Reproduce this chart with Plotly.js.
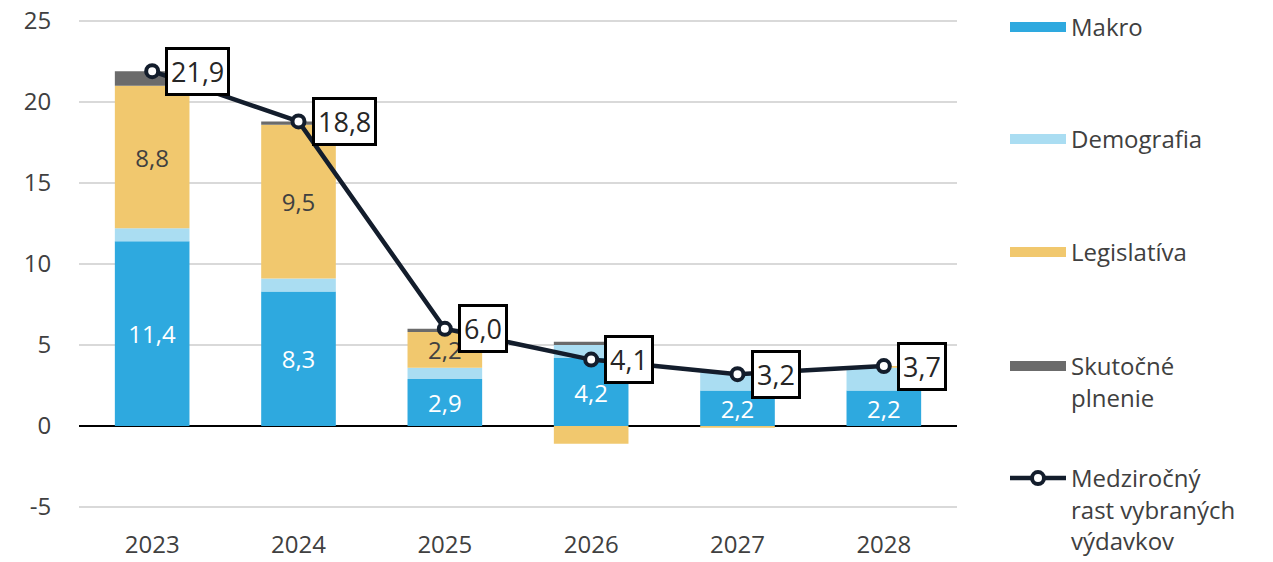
<!DOCTYPE html>
<html><head><meta charset="utf-8">
<script src="https://cdn.plot.ly/plotly-3.0.1.min.js"></script>
<style>html,body{margin:0;padding:0;background:#fff}#chart{width:1273px;height:562px}</style>
</head><body><div id="chart"></div>
<script>
const years = ['2023','2024','2025','2026','2027','2028'];
const makro = [11.4, 8.3, 2.9, 4.2, 2.2, 2.2];
const demografia = [0.8, 0.8, 0.7, 0.8, 1.1, 1.4];
const legislativa = [8.8, 9.5, 2.2, -1.1, -0.1, 0.1];
const skutocne = [0.9, 0.2, 0.2, 0.2, 0.0, 0.0];
const medzirocny = [21.9, 18.8, 6.0, 4.1, 3.2, 3.7];
const legislativaLabels = ['8,8', '9,5', '2,2', '', '', ''];
const yTicks = [-5, 0, 5, 10, 15, 20, 25];

const fmt = v => v.toFixed(1).replace('.', ',');
const FONT = 'Open Sans, sans-serif';
const TXT = '#404040';
const C = {makro:'#2EA9DF', demo:'#AADDF2', leg:'#F1C86E', skut:'#6B6B6B', line:'#131D2C'};

const bar = (name, y, color, extra) => Object.assign({
  type:'bar', name: name, x: years.slice(), y: y, marker:{color: color, line:{width:0}},
  showlegend:false, hoverinfo:'skip'
}, extra || {});

const proxy = (name, color, legend) => ({
  type:'scatter', mode:'lines', name: name, x:[null], y:[null],
  line:{color: color, width:16}, legend: legend, hoverinfo:'skip', showlegend:true
});

const traces = [
  bar('Makro', makro, C.makro, {text: makro.map(fmt), textposition:'inside', insidetextanchor:'middle',
      textangle:0, textfont:{color:'#ffffff', size:24, family:FONT}}),
  bar('Demografia', demografia, C.demo),
  bar('Legislatíva', legislativa, C.leg, {text: legislativaLabels, textposition:'inside', insidetextanchor:'middle',
      textangle:0, textfont:{color:TXT, size:24, family:FONT}}),
  bar('Skutočné plnenie', skutocne, C.skut),
  proxy('Makro', C.makro, 'legend'),
  proxy('Demografia', C.demo, 'legend2'),
  proxy('Legislatíva', C.leg, 'legend3'),
  proxy('Skutočné<br>plnenie', C.skut, 'legend4'),
  {type:'scatter', mode:'lines+markers', name:'Medziročný<br>rast vybraných<br>výdavkov',
   x: years.slice(), y: medzirocny, legend:'legend5', hoverinfo:'skip',
   line:{color:C.line, width:4.5},
   marker:{symbol:'circle', size:12, color:'#ffffff', line:{color:C.line, width:4}}}
];

const annotations = medzirocny.map((v, i) => ({
  x: i, y: v, xref:'x', yref:'y', text: fmt(v), showarrow:false,
  xanchor:'left', yanchor:'middle', xshift:13,
  font:{size:27, color:'#262626', family:FONT},
  bgcolor:'#ffffff', bordercolor:'#000000', borderwidth:3, borderpad:3
}));

const plotTop = 19, plotBottom = 509, plotH = plotBottom - plotTop;
const legY = px => (plotBottom - px) / plotH;
const legX = (1005 - 79) / 878;
const mkLeg = (topPx) => ({
  x: legX, xanchor:'left', y: legY(topPx), yanchor:'top', valign:'top',
  bgcolor:'rgba(0,0,0,0)', borderwidth:0, itemwidth:56,
  font:{size:24, color:TXT, family:FONT}
});

const layout = {
  width:1273, height:562,
  margin:{l:79, r:316, t:plotTop, b:562 - plotBottom, pad:0, autoexpand:false},
  paper_bgcolor:'#ffffff', plot_bgcolor:'#ffffff',
  barmode:'relative', bargap:0.49,
  font:{family:FONT, color:TXT, size:24},
  xaxis:{type:'category', categoryorder:'array', categoryarray: years,
    range:[-0.5, years.length - 0.5], autorange:false,
    showgrid:false, zeroline:false, showline:false,
    ticks:'outside', ticklen:14, tickcolor:'rgba(0,0,0,0)',
    tickfont:{size:24, color:TXT, family:FONT}},
  yaxis:{range:[-5.12, 25.12], autorange:false, tickvals:yTicks, ticktext:yTicks.map(String),
    showgrid:true, gridcolor:'#D9D9D9', gridwidth:1.3,
    zeroline:true, zerolinecolor:'#000000', zerolinewidth:1.3,
    ticks:'outside', ticklen:22, tickcolor:'rgba(0,0,0,0)',
    tickfont:{size:24, color:TXT, family:FONT}},
  uniformtext:{mode:'show', minsize:24},
  showlegend:true,
  legend: mkLeg(5),
  legend2: mkLeg(117),
  legend3: mkLeg(230),
  legend4: mkLeg(344),
  legend5: mkLeg(456),
  annotations: annotations
};

Plotly.newPlot('chart', traces, layout, {displayModeBar:false, staticPlot:true});
</script>
</body></html>
